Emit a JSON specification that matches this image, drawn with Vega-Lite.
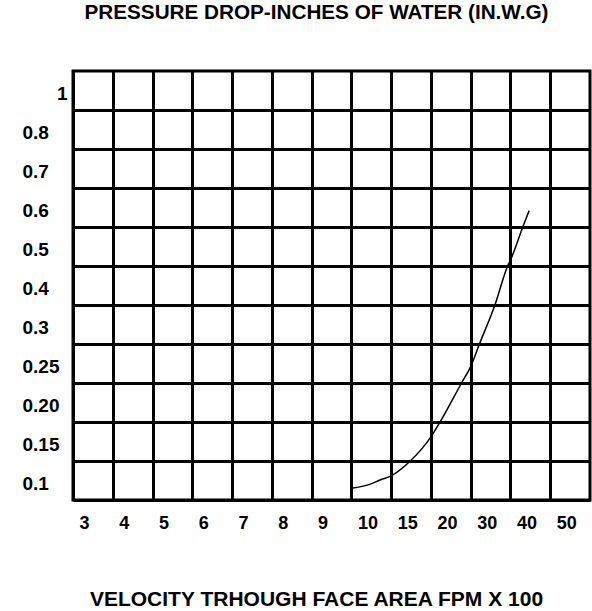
{
  "$schema": "https://vega.github.io/schema/vega-lite/v6.json",
  "width": 517,
  "height": 429,
  "autosize": {"type": "none"},
  "padding": {"left": 73, "top": 71, "right": 2, "bottom": 111},
  "background": "white",
  "config": {
    "view": {"stroke": "black", "strokeWidth": 3},
    "font": "Liberation Sans"
  },
  "title": {
    "text": "PRESSURE DROP-INCHES OF WATER (IN.W.G)",
    "anchor": "middle",
    "frame": "group",
    "dx": -15,
    "offset": 47,
    "fontSize": 20.7,
    "fontWeight": "bold",
    "font": "Liberation Sans",
    "color": "black"
  },
  "data": {
    "values": [
      {"velocity": 10, "pressure": 0.115},
      {"velocity": 12.3, "pressure": 0.12},
      {"velocity": 13.6, "pressure": 0.1256},
      {"velocity": 15, "pressure": 0.131},
      {"velocity": 17.4, "pressure": 0.15},
      {"velocity": 20, "pressure": 0.181},
      {"velocity": 22.3, "pressure": 0.2},
      {"velocity": 27.7, "pressure": 0.25},
      {"velocity": 30, "pressure": 0.271},
      {"velocity": 32.2, "pressure": 0.3},
      {"velocity": 36.1, "pressure": 0.4},
      {"velocity": 39.3, "pressure": 0.5},
      {"velocity": 40, "pressure": 0.515},
      {"velocity": 43.1, "pressure": 0.6},
      {"velocity": 44.7, "pressure": 0.642}
    ]
  },
  "mark": {"type": "line", "color": "black", "strokeWidth": 1.5, "interpolate": "monotone"},
  "encoding": {
    "x": {
      "field": "velocity",
      "type": "quantitative",
      "scale": {
        "domain": [3, 4, 5, 6, 7, 8, 9, 10, 15, 20, 30, 40, 50, 60],
        "range": [0, 39.77, 79.54, 119.31, 159.08, 198.85, 238.62, 278.38, 318.15, 357.92, 397.69, 437.46, 477.23, 517],
        "nice": false,
        "zero": false
      },
      "axis": {
        "values": [3, 4, 5, 6, 7, 8, 9, 10, 15, 20, 30, 40, 50],
        "labelExpr": "toString(datum.value)",
        "grid": true,
        "gridColor": "black",
        "gridWidth": 3,
        "gridOpacity": 1,
        "ticks": false,
        "tickSize": 0,
        "domain": false,
        "labelAlign": "left",
        "labelOffset": 6,
        "labelPadding": 23,
        "labelBaseline": "middle",
        "labelFontSize": 18,
        "labelFontWeight": "bold",
        "labelFont": "Liberation Sans",
        "labelColor": "black",
        "labelFlush": false,
        "labelOverlap": false,
        "title": "VELOCITY TRHOUGH FACE AREA FPM X 100",
        "titleX": 243,
        "titleY": 105,
        "titleAlign": "center",
        "titleBaseline": "alphabetic",
        "titleFontSize": 21,
        "titleFontWeight": "bold",
        "titleFont": "Liberation Sans",
        "titleColor": "black"
      }
    },
    "y": {
      "field": "pressure",
      "type": "quantitative",
      "scale": {
        "domain": [0.1, 0.15, 0.2, 0.25, 0.3, 0.4, 0.5, 0.6, 0.7, 0.8, 1.0, 1.2],
        "range": [429, 390, 351, 312, 273, 234, 195, 156, 117, 78, 39, 0],
        "nice": false,
        "zero": false
      },
      "axis": {
        "values": [0.1, 0.15, 0.2, 0.25, 0.3, 0.4, 0.5, 0.6, 0.7, 0.8, 1],
        "labelExpr": "datum.value == 0.2 ? '0.20' : toString(datum.value)",
        "grid": true,
        "gridColor": "black",
        "gridWidth": 3,
        "gridOpacity": 1,
        "ticks": false,
        "tickSize": 0,
        "domain": false,
        "labelAlign": {"condition": {"test": "datum.value == 1", "value": "right"}, "value": "left"},
        "labelPadding": {"condition": {"test": "datum.value == 1", "value": 6}, "value": 51},
        "labelOffset": -17,
        "labelBaseline": "middle",
        "labelFontSize": 19,
        "labelFontWeight": "bold",
        "labelFont": "Liberation Sans",
        "labelColor": "black",
        "labelFlush": false,
        "labelOverlap": false,
        "title": null
      }
    }
  }
}
